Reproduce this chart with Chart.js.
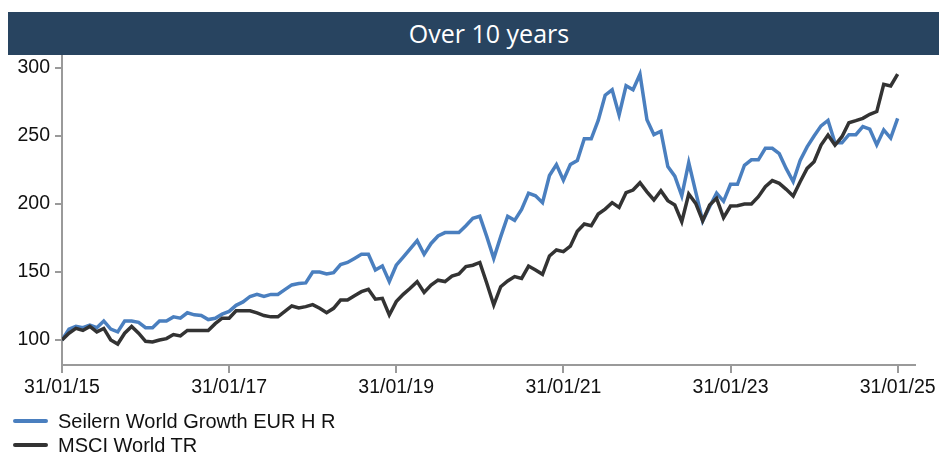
<!DOCTYPE html>
<html>
<head>
<meta charset="utf-8">
<script src="https://cdn.jsdelivr.net/npm/chart.js@4.4.1/dist/chart.umd.min.js"></script>
<style>
  html, body { margin: 0; padding: 0; background: #fff; }
  #wrap { position: relative; width: 939px; height: 454px; overflow: hidden; }
  #title-bar {
    position: absolute; left: 8px; top: 12px; width: 962px; height: 43px;
    background: #284460; color: #fff; text-align: center;
    font: 25px "Open Sans", "Noto Sans", sans-serif; line-height: 43px; z-index: 2;
  }
  #chart { position: absolute; left: 0; top: 0; }
  #legend {
    position: absolute; left: 13px; top: 409px;
    font: 20px "Liberation Sans", Arial, sans-serif; color: #111;
  }
  .item { display: flex; align-items: center; height: 24px; }
  .swatch { width: 35px; height: 4px; margin-right: 10px; border-radius: 2px; }
</style>
</head>
<body>
<div id="wrap">
  <div id="title-bar">Over 10 years</div>
  <canvas id="chart" width="939" height="454"></canvas>
  <div id="legend"></div>
</div>
<script>
// monthly values, 31/01/15 .. 31/01/25 (rebased to 100)
const seriesNames = ['Seilern World Growth EUR H R', 'MSCI World TR'];
const seriesColors = ['#4a7fbf', '#333333'];
const tickLabels = ['31/01/15', '31/01/17', '31/01/19', '31/01/21', '31/01/23', '31/01/25'];
const yTicks = [100, 150, 200, 250, 300];

const seilern = [
  100, 108, 110, 109, 111, 109, 114, 108, 106, 114, 114, 113,
  109, 109, 114, 114, 117, 116, 120, 118.5, 118, 115, 116, 119,
  121, 125.5, 128, 132, 133.5, 132, 133.5, 133.5, 137, 140.5, 141.5, 142,
  150, 150, 148.5, 149.5, 155.5, 157, 160, 163, 163, 151.5, 154.5, 143,
  155, 161, 167, 173, 163, 171, 176.5, 179, 179, 179, 184, 189.5,
  191, 176, 160, 176, 191, 188, 196, 208, 206, 201, 221, 229,
  217.5, 229, 232, 248, 248, 261.5, 280, 284, 265.5, 287, 284, 295.5,
  262, 251, 253.5, 227.5, 220.5, 206, 230.5, 209, 187.5, 198, 208, 202,
  214.5, 214.5, 228.5, 232.5, 232.5, 241, 241, 237, 226, 216.5, 232, 242,
  250, 257.5, 261.5, 245, 245, 251, 251, 257, 255, 243.5, 254.5, 248.5,
  263
];

const msci = [
  100, 105, 108.5, 107, 110, 106, 108.5, 100, 97, 105, 110, 105,
  99, 98.5, 100, 101, 104, 103, 107, 107, 107, 107, 112, 116,
  116, 121.5, 121.5, 121.5, 120, 118, 117, 117, 121, 125, 123.5, 124.5,
  126, 123.3, 120, 123.3, 129.4, 129.4, 132.6, 135.5, 137.3, 130, 130.6, 118.4,
  128.2, 133.6, 138, 142.9, 135, 140.4, 144, 143, 147, 148.5, 154, 155,
  157, 141.7, 125.7, 139.2, 143.4, 146.6, 145.3, 154.4, 151.5, 148.3, 161.8, 166.2,
  165, 169, 180, 185.3, 184, 192.6, 196.3, 201, 197.5, 208.3, 210.3, 215.7,
  209, 203, 209.8, 202.5, 199.3, 187, 207.4, 200.5, 187.7, 199.3, 204.2, 190,
  198.5, 198.8, 200, 200, 205.4, 212.7, 217.2, 215.2, 210.8, 205.9, 216.4, 226.2,
  231.1, 243.4, 250.7, 243.4, 249.5, 259.8, 261.3, 263, 266, 268, 288, 286.8,
  295.6
];

const axisGrey = '#9a9a9a';
const tickFont = { family: '"Liberation Sans", Arial, sans-serif', size: 19.5 };

const toPoints = arr => arr.map((v, i) => ({ x: i, y: v }));

new Chart(document.getElementById('chart'), {
  type: 'line',
  data: {
    datasets: [
      { label: seriesNames[0], data: toPoints(seilern), borderColor: seriesColors[0], borderWidth: 3.5, pointRadius: 0, order: 2 },
      { label: seriesNames[1], data: toPoints(msci), borderColor: seriesColors[1], borderWidth: 3.5, pointRadius: 0, order: 1 }
    ]
  },
  options: {
    responsive: false,
    animation: false,
    layout: { padding: { top: 55, right: 20, left: 0, bottom: 0 } },
    plugins: { legend: { display: false }, tooltip: { enabled: false } },
    scales: {
      x: {
        type: 'linear',
        min: 0,
        max: 122.45,
        afterBuildTicks: s => { s.ticks = tickLabels.map((_, i) => ({ value: i * 24 })); },
        afterFit: s => { s.height = 89; },
        ticks: {
          callback: v => tickLabels[v / 24],
          color: '#111', font: tickFont, padding: 3, maxRotation: 0, autoSkip: false
        },
        grid: { drawOnChartArea: false, color: axisGrey, tickLength: 8, lineWidth: 2 },
        border: { color: axisGrey, width: 2 }
      },
      y: {
        min: 81.6,
        max: 309.6,
        afterBuildTicks: s => { s.ticks = yTicks.map(v => ({ value: v })); },
        afterFit: s => { s.width = 62; },
        ticks: { color: '#111', font: tickFont, padding: 5 },
        grid: { drawOnChartArea: false, color: axisGrey, tickLength: 7, lineWidth: 2 },
        border: { color: axisGrey, width: 2 }
      }
    }
  }
});

// legend below the chart, one item per row
const legendEl = document.getElementById('legend');
seriesNames.forEach((name, i) => {
  const row = document.createElement('div');
  row.className = 'item';
  row.innerHTML = `<span class="swatch" style="background:${seriesColors[i]}"></span><span>${name}</span>`;
  legendEl.appendChild(row);
});
</script>
</body>
</html>
